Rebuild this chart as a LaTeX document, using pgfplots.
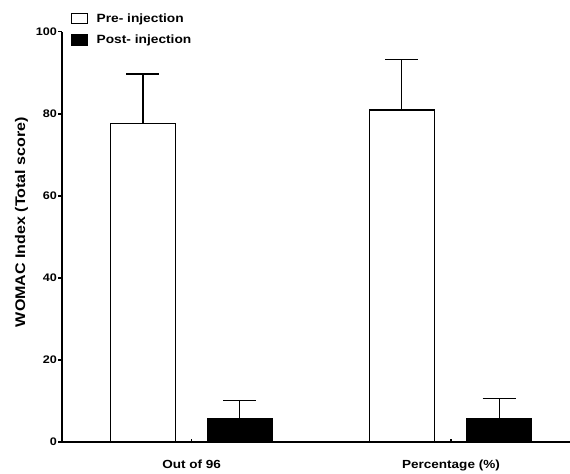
\documentclass[border=0pt]{standalone}
\usepackage{fontspec}
\setmainfont{Liberation Sans}[FakeStretch=1.15]
\usepackage{pgfplots}
\pgfplotsset{compat=1.18}
\begin{document}
\begin{tikzpicture}
\path[use as bounding box] (-62bp,-32bp) rectangle (508bp,442bp);
\begin{axis}[
  scale only axis, width=508bp, height=410.3bp,
  xmin=0.5, xmax=2.459, ymin=0, ymax=100,
  axis x line*=bottom, axis y line*=left,
  axis line style={-, line width=2bp, black},
  /pgf/number format/assume math mode=true,
  tick align=outside, major tick length=4bp,
  ytick={0,20,40,60,80,100},
  ytick style={line width=1.5bp, black},
  yticklabel style={font=\bfseries\fontsize{11}{12}\selectfont, inner xsep=1bp},
  xtick={1,2}, xticklabels={Out of 96, Percentage (\%)},
  xtick style={line width=1.5bp, black, yshift=3bp},
  xticklabel style={font=\bfseries\fontsize{11.8}{13}\selectfont, yshift=-10bp},
  ylabel={WOMAC Index (Total score)},
  ylabel style={font=\bfseries\fontsize{14}{15}\selectfont, at={(axis description cs:-0.0797,0.536)}, anchor=center},
  legend style={at={(axis description cs:0.017,1.047)}, anchor=north west, draw=none, fill=none,
    font=\bfseries\fontsize{12}{13}\selectfont, row sep=10bp, inner sep=0pt,
    nodes={inner sep=0pt, anchor=west}},
  legend cell align=left,
  /tikz/every odd column/.append style={column sep=8.6bp},
]
\addplot[ybar, bar width=0.2505, bar shift=0pt, draw=black, fill=white, line width=1.2bp,
  legend image code/.code={\draw[draw=black, fill=white, line width=1.2bp] (0bp,-5.3bp) rectangle (16bp,5.3bp);},
  error bars/.cd, y dir=plus, y explicit,
  error bar style={line width=1.2bp, black},
  error mark options={rotate=90, line width=1.2bp, black, mark size=16.5bp}]
  coordinates {(0.812,77.7) +- (0,12.0) (1.810,80.9) +- (0,12.4)};
\addlegendentry{Pre- injection}
\addplot[ybar, bar width=0.2505, bar shift=0pt, draw=black, fill=black, line width=1.2bp,
  legend image code/.code={\draw[draw=black, fill=black, line width=1.2bp] (0bp,-5.3bp) rectangle (16bp,5.3bp);},
  error bars/.cd, y dir=plus, y explicit,
  error bar style={line width=1.2bp, black},
  error mark options={rotate=90, line width=1.2bp, black, mark size=16.5bp}]
  coordinates {(1.186,5.6) +- (0,4.5) (2.186,5.8) +- (0,4.8)};
\addlegendentry{Post- injection}
\end{axis}
\end{tikzpicture}
\end{document}
